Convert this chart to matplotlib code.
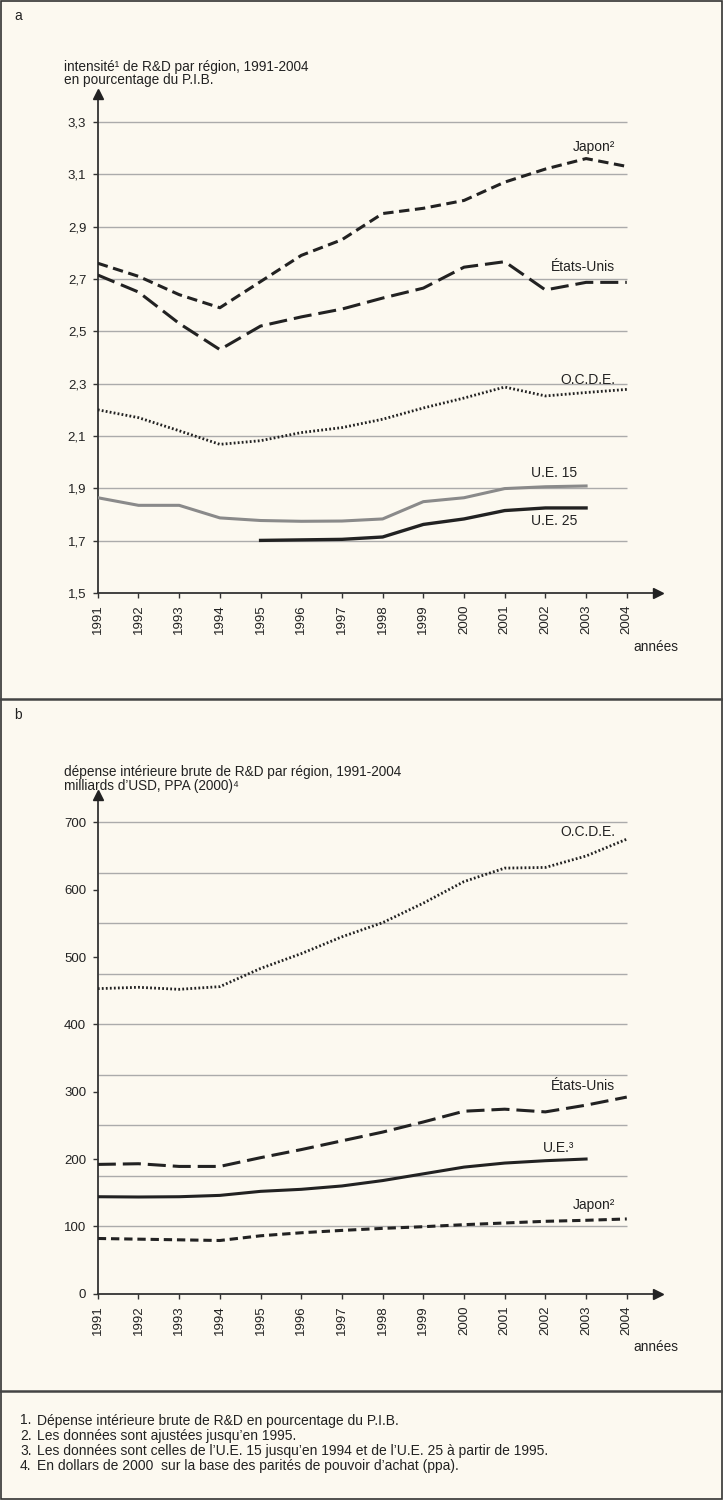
import numpy as np
import matplotlib
matplotlib.use("Agg")
import matplotlib.pyplot as plt

plt.rcParams['font.family'] = ['Liberation Sans', 'DejaVu Sans']
plt.rcParams['lines.scale_dashes'] = False

# ---- data ----
years = list(range(1991, 2005))
years_ue25 = list(range(1995, 2004))
years_ue = list(range(1991, 2004))

# panel a: R&D intensity, % of GDP
japon_a = [2.76, 2.71, 2.64, 2.59, 2.69, 2.79, 2.85, 2.95, 2.97, 3.00, 3.07, 3.12, 3.16, 3.13]
usa_a = [2.715, 2.65, 2.53, 2.43, 2.52, 2.555, 2.585, 2.627, 2.665, 2.745, 2.766, 2.658, 2.687, 2.687]
ocde_a = [2.20, 2.17, 2.12, 2.068, 2.082, 2.113, 2.132, 2.164, 2.207, 2.245, 2.287, 2.253, 2.266, 2.278]
ue15_a = [1.864, 1.835, 1.835, 1.787, 1.777, 1.774, 1.775, 1.783, 1.849, 1.864, 1.899, 1.906, 1.909]
ue25_a = [1.701, 1.703, 1.705, 1.714, 1.762, 1.783, 1.815, 1.825, 1.825]

# panel b: GERD, billions USD PPP (2000)
ocde_b = [453, 455, 452, 456, 483, 505, 530, 551, 580, 612, 632, 633, 650, 675]
usa_b = [192, 193, 189, 189, 202, 214, 227, 240, 255, 271, 274, 270, 280, 292]
ue_b = [144, 143.6, 144, 146, 152, 155, 160, 168, 178, 188, 194, 197.5, 200]
japon_b = [82, 81, 80, 79, 86, 90.5, 94, 97, 99.5, 102.5, 105, 107.5, 109, 111]

yticks_a = [1.5, 1.7, 1.9, 2.1, 2.3, 2.5, 2.7, 2.9, 3.1, 3.3]
yticks_b = [0, 100, 200, 300, 400, 500, 600, 700]
grid_b = [100, 175, 250, 325, 400, 475, 550, 625, 700]

footnotes = [
    "Dépense intérieure brute de R&D en pourcentage du P.I.B.",
    "Les données sont ajustées jusqu\u2019en 1995.",
    "Les données sont celles de l\u2019U.E. 15 jusqu\u2019en 1994 et de l\u2019U.E. 25 à partir de 1995.",
    "En dollars de 2000  sur la base des parités de pouvoir d\u2019achat (ppa).",
]

W, H = 723, 1500
BG = '#fcf9f0'
INK = '#222222'
GRID = '#ababab'

fig = plt.figure(figsize=(W / 100, H / 100), dpi=100, facecolor=BG)


def px_axes(x0, y_top, x1, y_bot):
    return fig.add_axes([x0 / W, 1 - y_bot / H, (x1 - x0) / W, (y_bot - y_top) / H])


def style_axes(ax, yticks, ylabels, grid_vals, xmax):
    ax.set_facecolor('none')
    for s in ['top', 'right']:
        ax.spines[s].set_visible(False)
    for s in ['left', 'bottom']:
        ax.spines[s].set_color('#333333')
        ax.spines[s].set_linewidth(1.3)
    ax.hlines(grid_vals, 1991, 2004, color=GRID, lw=1.0, zorder=1)
    ax.set_xticks(years)
    ax.set_xticklabels([str(y) for y in years], rotation=90, fontsize=9.5, color=INK)
    ax.set_yticks(yticks)
    ax.set_yticklabels(ylabels, fontsize=9.5, color=INK)
    ax.tick_params(axis='both', direction='out', length=3.8, width=1.0, color='#333333', pad=4.5)
    ax.set_xlim(1991, xmax)
    # arrow heads at the end of the axes
    ax.plot([0], [1], marker='^', ms=7, color=INK, transform=ax.transAxes, clip_on=False, zorder=5)
    ax.plot([1], [0], marker='>', ms=7, color=INK, transform=ax.transAxes, clip_on=False, zorder=5)


xmax = 1991 + (658 - 97.8) / 40.69

# ---------- panel a ----------
ax1 = px_axes(97.8, 94, 658, 593)
ax1.set_ylim(1.5, 1.5 + (593 - 94) / 261.7)
style_axes(ax1, yticks_a, [f"{v:.1f}".replace('.', ',') for v in yticks_a], yticks_a[1:], xmax)

ax1.plot(years, japon_a, color=INK, lw=2.2, dashes=(7.5, 4), zorder=3)
ax1.plot(years, usa_a, color=INK, lw=2.2, dashes=(13, 5), zorder=3)
ax1.plot(years, ocde_a, color=INK, lw=2.0, dashes=(1.3, 1.6), zorder=3)
ax1.plot(years_ue, ue15_a, color='#8a8a8a', lw=2.2, zorder=3)
ax1.plot(years_ue25, ue25_a, color=INK, lw=2.4, zorder=3)

lab = dict(fontsize=10, color=INK, va='center')
ax1.text(2003.71, 3.204, "Japon\u00b2", ha='right', **lab)
ax1.text(2003.71, 2.745, "États-Unis", ha='right', **lab)
ax1.text(2003.71, 2.314, "O.C.D.E.", ha='right', **lab)
ax1.text(2001.64, 1.957, "U.E. 15", ha='left', **lab)
ax1.text(2001.64, 1.776, "U.E. 25", ha='left', **lab)

# ---------- panel b ----------
ax2 = px_axes(97.8, 795, 658, 1293.7)
ax2.set_ylim(0, (1293.7 - 795) / 0.6734)
style_axes(ax2, yticks_b, [str(v) for v in yticks_b], grid_b, xmax)

ax2.plot(years, ocde_b, color=INK, lw=2.0, dashes=(1.3, 1.6), zorder=3)
ax2.plot(years, usa_b, color=INK, lw=2.2, dashes=(13, 5), zorder=3)
ax2.plot(years_ue, ue_b, color=INK, lw=2.2, zorder=3)
ax2.plot(years, japon_b, color=INK, lw=2.2, dashes=(6, 3.5), zorder=3)

ax2.text(2003.71, 686, "O.C.D.E.", ha='right', **lab)
ax2.text(2003.71, 308, "États-Unis", ha='right', **lab)
ax2.text(2002.7, 217, "U.E.\u00b3", ha='right', **lab)
ax2.text(2003.71, 132, "Japon\u00b2", ha='right', **lab)

# ---------- titles, frame, footnotes ----------
def ftext(x, y, s, **kw):
    fig.text(x / W, 1 - y / H, s, va='center', color=INK, **kw)


ftext(14, 16, "a", fontsize=10)
ftext(64, 67, "intensité\u00b9 de R&D par région, 1991-2004", fontsize=9.8)
ftext(64, 80, "en pourcentage du P.I.B.", fontsize=9.8)
ftext(633, 647, "années", fontsize=9.8)

ftext(14, 715, "b", fontsize=10)
ftext(64, 772, "dépense intérieure brute de R&D par région, 1991-2004", fontsize=9.8)
ftext(64, 786, "milliards d\u2019USD, PPA (2000)\u2074", fontsize=9.8)
ftext(633, 1347, "années", fontsize=9.8)

for i, note in enumerate(footnotes):
    y = 1420.5 + i * 15.3
    ftext(20, y, f"{i + 1}.", fontsize=10)
    ftext(37, y, note, fontsize=10)

# frame and separators
frame = plt.Rectangle((1 / W, 1 / H), 1 - 2 / W, 1 - 2 / H, transform=fig.transFigure,
                      fill=False, ec='#333333', lw=1.2)
fig.add_artist(frame)
for yy in [699, 1391]:
    fig.add_artist(plt.Line2D([0, 1], [1 - yy / H] * 2, transform=fig.transFigure,
                              color='#444444', lw=1.8))

fig.savefig("out.png", dpi=100, facecolor=BG)
